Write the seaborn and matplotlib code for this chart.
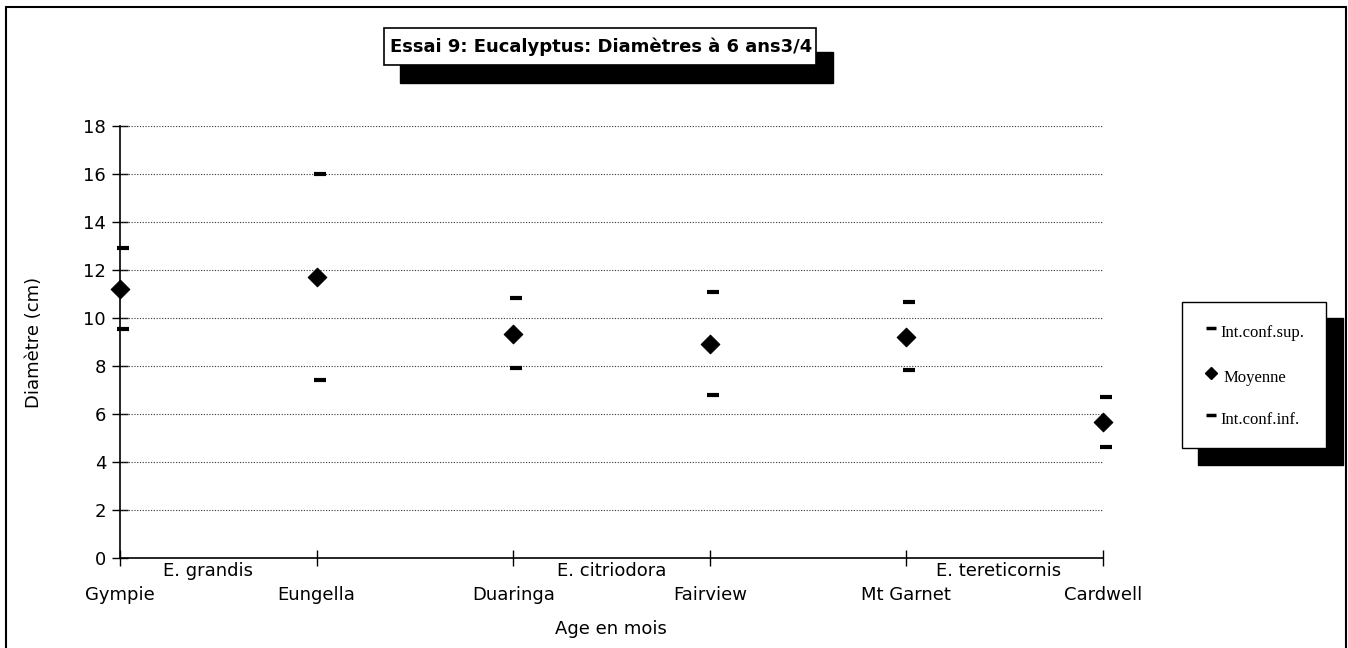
import matplotlib
matplotlib.use("Agg")
import matplotlib.pyplot as plt
import matplotlib.transforms as mtransforms
from matplotlib.patches import Rectangle
from matplotlib.lines import Line2D
import seaborn as sns
import pandas as pd

# ---- data ----
sites = ["Gympie", "Eungella", "Duaringa", "Fairview", "Mt Garnet", "Cardwell"]
species = ["E. grandis", "E. citriodora", "E. tereticornis"]
species_pos = [0.45, 2.5, 4.47]
moyenne = [11.2, 11.7, 9.35, 8.9, 9.22, 5.65]
conf_sup = [12.9, 16.0, 10.82, 11.07, 10.65, 6.71]
conf_inf = [9.55, 7.42, 7.93, 6.78, 7.82, 4.61]
yticks = [0, 2, 4, 6, 8, 10, 12, 14, 16, 18]

title = "Essai 9: Eucalyptus: Diamètres à 6 ans3/4"
ylabel = "Diamètre (cm)"
xlabel = "Age en mois"
legend_labels = ["Int.conf.sup.", "Moyenne", "Int.conf.inf."]

sns.set_theme(style="white")
plt.rcParams["font.family"] = ["DejaVu Sans"]

W, H = 1348, 648
fig = plt.figure(figsize=(W / 100, H / 100), dpi=100)
fig.patch.set_facecolor("white")

def fx(px):
    return px / W

def fy(py):
    return 1 - py / H

ax = fig.add_axes([fx(120), fy(558), fx(1103) - fx(120), fy(126) - fy(558)])

df = pd.DataFrame({"x": list(range(len(sites))), "moy": moyenne,
                   "sup": conf_sup, "inf": conf_inf})

dash_tr = mtransforms.offset_copy(ax.transData, fig=fig, x=3, y=0, units="dots")

sns.scatterplot(data=df, x="x", y="sup", ax=ax, marker="_", s=70, color="black",
                linewidth=3, clip_on=False, transform=dash_tr, zorder=5)
sns.scatterplot(data=df, x="x", y="inf", ax=ax, marker="_", s=70, color="black",
                linewidth=3, clip_on=False, transform=dash_tr, zorder=5)
sns.scatterplot(data=df, x="x", y="moy", ax=ax, marker="D", s=90, color="black",
                edgecolor="black", clip_on=False, zorder=6)

ax.set_xlim(0, len(sites) - 1)
ax.set_ylim(0, 18)
ax.set_yticks(yticks)
ax.set_yticklabels([str(v) for v in yticks], fontsize=13)
ax.set_xticks(range(len(sites)))
ax.set_xticklabels(sites, fontsize=13)
ax.tick_params(axis="x", bottom=True, direction="inout", length=12, width=1, pad=14,
               color="black", labelcolor="black")
ax.tick_params(axis="y", left=True, direction="inout", length=12, width=1, pad=4,
               color="black", labelcolor="black")

for v in yticks[1:]:
    ax.axhline(v, color="#333333", linestyle=(0, (1, 1.5)), linewidth=0.8, zorder=1)

for s in ["top", "right"]:
    ax.spines[s].set_visible(False)
for s in ["left", "bottom"]:
    ax.spines[s].set_color("black")
    ax.spines[s].set_linewidth(1.2)

ax.set_xlabel("")
ax.set_ylabel("")

blend = mtransforms.blended_transform_factory(ax.transData, fig.transFigure)
for sp, xp in zip(species, species_pos):
    ax.text(xp, fy(571), sp, transform=blend, ha="center", va="center", fontsize=13,
            color="black")

fig.text(fx(611), fy(629), xlabel, ha="center", va="center", fontsize=13, color="black")
fig.text(fx(34), fy(342), ylabel, ha="center", va="center", rotation=90, fontsize=13,
         color="black")

# title box with shadow
fig.patches.append(Rectangle((fx(400), fy(83)), fx(833) - fx(400), fy(52) - fy(83),
                             transform=fig.transFigure, facecolor="black", edgecolor="black", zorder=1))
fig.patches.append(Rectangle((fx(384), fy(65)), fx(816) - fx(384), fy(28) - fy(65),
                             transform=fig.transFigure, facecolor="white", edgecolor="black",
                             linewidth=1.2, zorder=2))
fig.text(fx(601), fy(47), title, ha="center", va="center", fontsize=13,
         fontweight="bold", zorder=3, color="black")

# legend box with shadow
fig.patches.append(Rectangle((fx(1198), fy(465)), fx(1343) - fx(1198), fy(318) - fy(465),
                             transform=fig.transFigure, facecolor="black", edgecolor="black", zorder=1))
fig.patches.append(Rectangle((fx(1182), fy(448)), fx(1326) - fx(1182), fy(302) - fy(448),
                             transform=fig.transFigure, facecolor="white", edgecolor="black",
                             linewidth=1.0, zorder=2))
leg_rows = [(330, "_", 7, 2.5, 1220), (375, "D", 6, 1, 1224), (417, "_", 7, 2.5, 1220)]
for (py, mk, ms, mew, tx), lab in zip(leg_rows, legend_labels):
    fig.lines.append(Line2D([fx(1211)], [fy(py - 2)], transform=fig.transFigure, marker=mk,
                            markersize=ms, markeredgewidth=mew, color="black", linestyle="none",
                            zorder=4))
    fig.text(fx(tx), fy(py + 3), lab, ha="left", va="center", fontsize=12,
             family=["Liberation Serif", "DejaVu Serif"], zorder=4, color="black")

# outer frame (left, top, right)
for xs, ys in [([6, 6], [7, 648]), ([6, 1346], [7, 7]), ([1346, 1346], [7, 648])]:
    fig.lines.append(Line2D([fx(x) for x in xs], [fy(y) for y in ys], transform=fig.transFigure,
                            color="black", linewidth=1.5))

fig.savefig("out.png", dpi=100, facecolor="white")
